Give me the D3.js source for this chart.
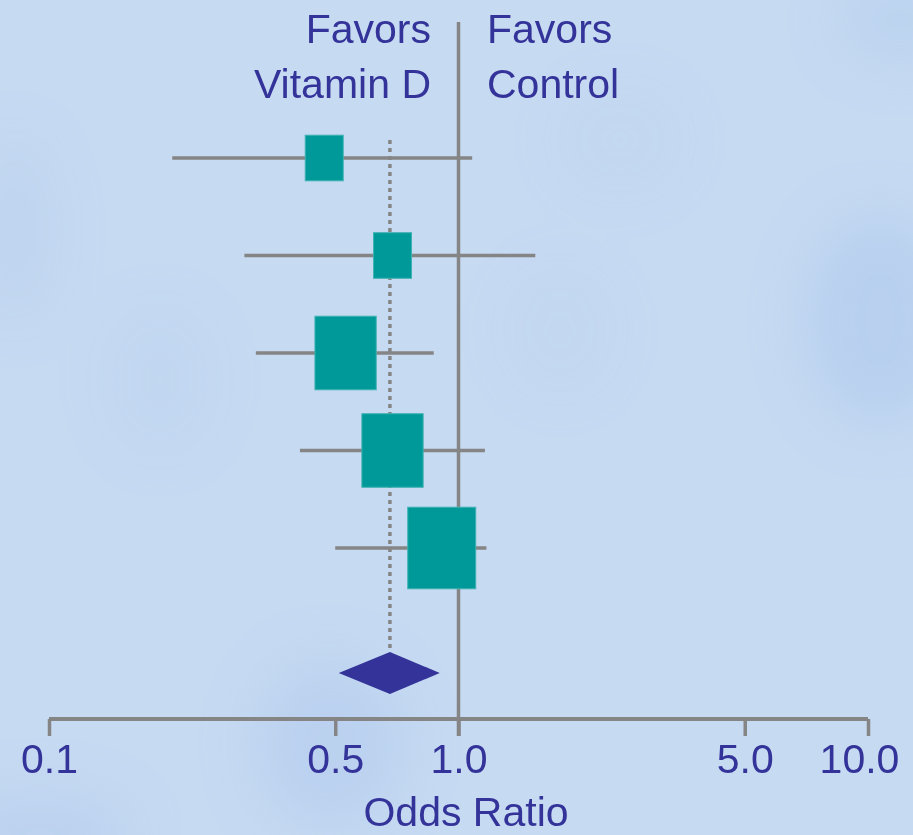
<!DOCTYPE html>
<html>
<head>
<meta charset="utf-8">
<script src="https://cdn.jsdelivr.net/npm/d3@7/dist/d3.min.js"></script>
<style>
  html, body { margin: 0; padding: 0; background: #c6daf2; }
  svg { display: block; }
  text { font-family: "Liberation Sans", Arial, sans-serif; fill: #333399; }
</style>
</head>
<body>
<script>
// Study-level odds ratios with 95% confidence intervals and weights
const studies   = ["Study 1", "Study 2", "Study 3", "Study 4", "Study 5"];
const oddsRatio = [0.47, 0.69, 0.53, 0.69, 0.91];
const ciLower   = [0.20, 0.30, 0.32, 0.41, 0.50];
const ciUpper   = [1.08, 1.54, 0.87, 1.16, 1.17];
const weights   = [10, 10, 26, 26, 32];

// Pooled estimate
const pooledOR    = 0.68;
const pooledLower = 0.51;
const pooledUpper = 0.90;

const tickValues = [0.1, 0.5, 1, 5, 10];
const tickLabels = ["0.1", "0.5", "1.0", "5.0", "10.0"];

const W = 913, H = 835;
const svg = d3.select("body").append("svg").attr("width", W).attr("height", H);

// Soft mottled backdrop
const defs = svg.append("defs");
defs.append("filter").attr("id", "soft")
  .attr("x", "-50%").attr("y", "-50%").attr("width", "200%").attr("height", "200%")
  .append("feGaussianBlur").attr("stdDeviation", 26);
svg.append("rect").attr("width", W).attr("height", H).attr("fill", "#c6daf2");
const blobs = [
  {cx: 880, cy: 320, rx: 75, ry: 105, o: 0.45},
  {cx: 330, cy: 745, rx: 75, ry: 85, o: 0.4},
  {cx: 40,  cy: 835, rx: 90, ry: 40, o: 0.4},
  {cx: 15,  cy: 230, rx: 35, ry: 90, o: 0.25},
  {cx: 900, cy: 20,  rx: 60, ry: 40, o: 0.35},
  {cx: 160, cy: 380, rx: 50, ry: 70, o: 0.15},
  {cx: 620, cy: 140, rx: 60, ry: 50, o: 0.12},
  {cx: 560, cy: 330, rx: 50, ry: 60, o: 0.12}
];
svg.append("g").attr("filter", "url(#soft)")
  .selectAll("ellipse").data(blobs).join("ellipse")
  .attr("cx", d => d.cx).attr("cy", d => d.cy)
  .attr("rx", d => d.rx).attr("ry", d => d.ry)
  .attr("fill", "#a9c5ea").attr("opacity", d => d.o);

// Scales
const x = d3.scaleLog().domain([0.1, 10]).range([49, 868]);
const y = d3.scaleLinear().domain([0, studies.length - 1]).range([158, 548]);
const side = d3.scaleSqrt().domain([0, 10]).range([0, 38]);
const pooledY = 673;
const axisY = 719;
const gray = "#858585";

// Null line at OR = 1
svg.append("line")
  .attr("x1", x(1)).attr("x2", x(1))
  .attr("y1", 22).attr("y2", axisY + 17)
  .attr("stroke", gray).attr("stroke-width", 3.5);

// Dotted reference line at pooled OR
svg.append("line")
  .attr("x1", x(pooledOR)).attr("x2", x(pooledOR))
  .attr("y1", 140).attr("y2", pooledY - 21)
  .attr("stroke", gray).attr("stroke-width", 3.5)
  .attr("stroke-dasharray", "4 4");

// Confidence interval whiskers
svg.append("g").selectAll("line").data(studies).join("line")
  .attr("x1", (d, i) => x(ciLower[i])).attr("x2", (d, i) => x(ciUpper[i]))
  .attr("y1", (d, i) => y(i)).attr("y2", (d, i) => y(i))
  .attr("stroke", gray).attr("stroke-width", 3.5);

// Weighted point estimates
svg.append("g").selectAll("rect").data(studies).join("rect")
  .attr("x", (d, i) => x(oddsRatio[i]) - side(weights[i]) / 2)
  .attr("y", (d, i) => y(i) - side(weights[i]) * 1.2 / 2)
  .attr("width", (d, i) => side(weights[i]))
  .attr("height", (d, i) => side(weights[i]) * 1.2)
  .attr("fill", "#009999")
  .attr("stroke", "#3fb2b2").attr("stroke-width", 1);

// Pooled diamond
svg.append("path")
  .attr("d", d3.line()([
    [x(pooledLower), pooledY],
    [x(pooledOR), pooledY - 21],
    [x(pooledUpper), pooledY],
    [x(pooledOR), pooledY + 21]
  ]) + "Z")
  .attr("fill", "#333399");

// Odds ratio axis
const axis = d3.axisBottom(x)
  .tickValues(tickValues)
  .tickFormat((d, i) => tickLabels[i])
  .tickSizeInner(17).tickSizeOuter(0);
const gAxis = svg.append("g").attr("transform", `translate(0,${axisY})`).call(axis);
gAxis.select(".domain").attr("stroke", gray).attr("stroke-width", 4)
  .attr("d", `M${x(0.1)},0H${x(10)}`);
gAxis.selectAll(".tick line").attr("stroke", gray).attr("stroke-width", 3.5);
gAxis.selectAll(".tick text")
  .attr("y", 54).attr("dy", null)
  .attr("x", (d, i) => i === tickValues.length - 1 ? -9 : 0)
  .style("font-size", "41px")
  .attr("fill", "#333399")
  .attr("font-family", "Liberation Sans, Arial, sans-serif");

svg.append("text")
  .attr("x", 466).attr("y", 826)
  .attr("text-anchor", "middle")
  .style("font-size", "41px")
  .text("Odds Ratio");

// Direction labels
const header = [
  {t: "Favors", x: 431, y: 43, a: "end"},
  {t: "Vitamin D", x: 431, y: 98, a: "end"},
  {t: "Favors", x: 487, y: 43, a: "start"},
  {t: "Control", x: 487, y: 98, a: "start"}
];
svg.append("g").selectAll("text").data(header).join("text")
  .attr("x", d => d.x).attr("y", d => d.y)
  .attr("text-anchor", d => d.a)
  .style("font-size", "41px")
  .text(d => d.t);
</script>
</body>
</html>
